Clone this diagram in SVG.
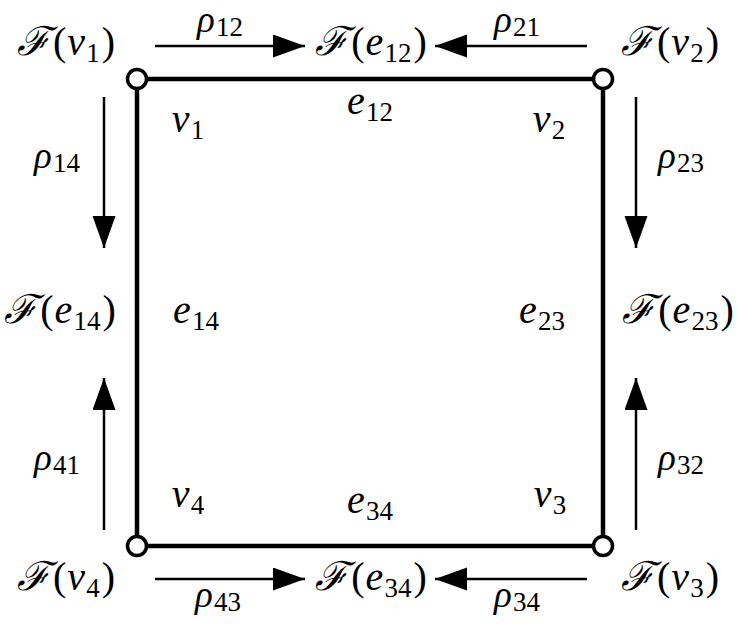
<svg xmlns="http://www.w3.org/2000/svg" width="737" height="625" viewBox="0 0 737 625">
<style>
.m{font-family:"Liberation Serif","DejaVu Serif",serif;font-size:40px;fill:#000;text-anchor:middle}
.r{font-size:37px}
.i{font-style:italic}
.s{font-size:27px;font-style:normal}
.edge{stroke:#000;stroke-width:4.5;fill:none}
.map{stroke:#000;stroke-width:2.5;fill:none;marker-end:url(#ah)}
.vtx{fill:#fff;stroke:#000;stroke-width:3.5}
</style>
<defs>
<marker id="ah" markerUnits="userSpaceOnUse" markerWidth="33" markerHeight="24" refX="32" refY="11.5" orient="auto">
<path d="M0,0 L32,11.5 L0,23 Z" fill="#000"/>
</marker>
</defs>
<rect width="737" height="625" fill="#fff"/>
<g id="connectors">
<g id="edges">
<line id="e12" class="edge" x1="137" y1="79" x2="603" y2="79"/>
<line id="e23" class="edge" x1="603" y1="79" x2="603" y2="546"/>
<line id="e34" class="edge" x1="137" y1="546" x2="603" y2="546"/>
<line id="e14" class="edge" x1="137" y1="79" x2="137" y2="546"/>
</g>
<g id="maps">
<line class="map" x1="155" y1="46" x2="305" y2="46"/>
<line class="map" x1="587" y1="46" x2="435" y2="46"/>
<line class="map" x1="155" y1="579" x2="305" y2="579"/>
<line class="map" x1="587" y1="579" x2="435" y2="579"/>
<line class="map" x1="104" y1="97" x2="104" y2="248"/>
<line class="map" x1="104" y1="530" x2="104" y2="378"/>
<line class="map" x1="636" y1="97" x2="636" y2="248"/>
<line class="map" x1="636" y1="530" x2="636" y2="378"/>
</g>
</g>
<g id="v1"><circle class="vtx" cx="137" cy="79" r="9.5"/></g>
<g id="v2"><circle class="vtx" cx="603" cy="79" r="9.5"/></g>
<g id="v3"><circle class="vtx" cx="603" cy="546" r="9.5"/></g>
<g id="v4"><circle class="vtx" cx="137" cy="546" r="9.5"/></g>
<g id="labels">
<text class="m" x="66" y="55"><tspan class="i">ℱ</tspan><tspan dx="3">(</tspan><tspan class="i" dx="1">v</tspan><tspan class="s" dy="7" dx="1">1</tspan><tspan dy="-7" dx="2">)</tspan></text>
<text class="m" x="371" y="55"><tspan class="i">ℱ</tspan><tspan dx="3">(</tspan><tspan class="i" dx="1">e</tspan><tspan class="s" dy="7" dx="1">12</tspan><tspan dy="-7" dx="2">)</tspan></text>
<text class="m" x="670" y="55"><tspan class="i">ℱ</tspan><tspan dx="3">(</tspan><tspan class="i" dx="1">v</tspan><tspan class="s" dy="7" dx="1">2</tspan><tspan dy="-7" dx="2">)</tspan></text>
<text class="m r" x="220" y="32"><tspan class="i">ρ</tspan><tspan class="s" dy="4" dx="1">12</tspan></text>
<text class="m r" x="517" y="32"><tspan class="i">ρ</tspan><tspan class="s" dy="4" dx="1">21</tspan></text>
<text class="m" x="370" y="114"><tspan class="i">e</tspan><tspan class="s" dy="7" dx="1">12</tspan></text>
<text class="m" x="188" y="132"><tspan class="i">v</tspan><tspan class="s" dy="7" dx="1">1</tspan></text>
<text class="m" x="549" y="132"><tspan class="i">v</tspan><tspan class="s" dy="7" dx="1">2</tspan></text>
<text class="m r" x="57" y="168"><tspan class="i">ρ</tspan><tspan class="s" dy="4" dx="1">14</tspan></text>
<text class="m r" x="681" y="168"><tspan class="i">ρ</tspan><tspan class="s" dy="4" dx="1">23</tspan></text>
<text class="m" x="60" y="323"><tspan class="i">ℱ</tspan><tspan dx="3">(</tspan><tspan class="i" dx="1">e</tspan><tspan class="s" dy="7" dx="1">14</tspan><tspan dy="-7" dx="2">)</tspan></text>
<text class="m" x="196" y="323"><tspan class="i">e</tspan><tspan class="s" dy="7" dx="1">14</tspan></text>
<text class="m" x="542" y="323"><tspan class="i">e</tspan><tspan class="s" dy="7" dx="1">23</tspan></text>
<text class="m" x="678" y="323"><tspan class="i">ℱ</tspan><tspan dx="3">(</tspan><tspan class="i" dx="1">e</tspan><tspan class="s" dy="7" dx="1">23</tspan><tspan dy="-7" dx="2">)</tspan></text>
<text class="m r" x="57" y="470"><tspan class="i">ρ</tspan><tspan class="s" dy="4" dx="1">41</tspan></text>
<text class="m r" x="681" y="470"><tspan class="i">ρ</tspan><tspan class="s" dy="4" dx="1">32</tspan></text>
<text class="m" x="188" y="507"><tspan class="i">v</tspan><tspan class="s" dy="7" dx="1">4</tspan></text>
<text class="m" x="370" y="513"><tspan class="i">e</tspan><tspan class="s" dy="7" dx="1">34</tspan></text>
<text class="m" x="550" y="507"><tspan class="i">v</tspan><tspan class="s" dy="7" dx="1">3</tspan></text>
<text class="m" x="66" y="590"><tspan class="i">ℱ</tspan><tspan dx="3">(</tspan><tspan class="i" dx="1">v</tspan><tspan class="s" dy="7" dx="1">4</tspan><tspan dy="-7" dx="2">)</tspan></text>
<text class="m" x="371" y="590"><tspan class="i">ℱ</tspan><tspan dx="3">(</tspan><tspan class="i" dx="1">e</tspan><tspan class="s" dy="7" dx="1">34</tspan><tspan dy="-7" dx="2">)</tspan></text>
<text class="m" x="670" y="590"><tspan class="i">ℱ</tspan><tspan dx="3">(</tspan><tspan class="i" dx="1">v</tspan><tspan class="s" dy="7" dx="1">3</tspan><tspan dy="-7" dx="2">)</tspan></text>
<text class="m r" x="218" y="607"><tspan class="i">ρ</tspan><tspan class="s" dy="4" dx="1">43</tspan></text>
<text class="m r" x="517" y="607"><tspan class="i">ρ</tspan><tspan class="s" dy="4" dx="1">34</tspan></text>
</g>
</svg>
